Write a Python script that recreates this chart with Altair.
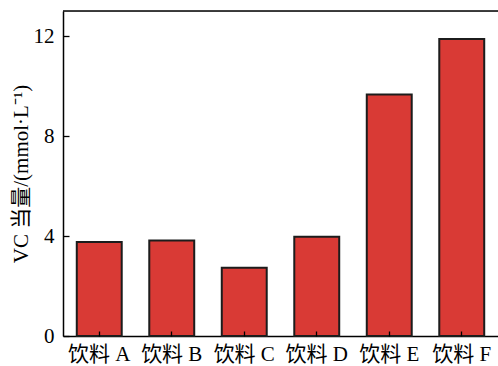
import altair as alt
import pandas as pd

drinks = ["饮料 A", "饮料 B", "饮料 C", "饮料 D", "饮料 E", "饮料 F"]
values = [3.76, 3.82, 2.73, 3.97, 9.66, 11.88]
y_ticks = [0, 4, 8, 12]
y_max = 13

df = pd.DataFrame({"drink": drinks, "vc": values})

FONT = "Liberation Serif, Times New Roman, Noto Sans CJK SC, serif"
W, H = 435, 325

xscale = alt.Scale(domain=drinks, paddingInner=0.38, paddingOuter=0.19)
yscale = alt.Scale(domain=[0, y_max], nice=False, zero=True)

base = alt.Chart(df)

bars = base.mark_bar(color="#d93a35", stroke="#1c1c1c", strokeWidth=2).encode(
    x=alt.X("drink:N", scale=xscale, sort=drinks,
            axis=alt.Axis(orient="bottom", title=None, labelAngle=0, ticks=False, tickSize=0,
                          labelPadding=7, labelFont=FONT, labelFontSize=21, labelColor="black",
                          domainColor="black", domainWidth=1.5)),
    y=alt.Y("vc:Q", scale=yscale,
            axis=alt.Axis(orient="left", values=y_ticks, grid=False, ticks=False, tickSize=0,
                          labelPadding=9, labelFont=FONT, labelFontSize=21, labelColor="black",
                          domainColor="black", domainWidth=1.5,
                          title="VC 当量/(mmol·L⁻¹)", titleFont=FONT, titleFontSize=21,
                          titleFontWeight="normal", titleColor="black", titlePadding=2)),
)

ticks = base.mark_bar(opacity=0).encode(
    x=alt.X("drink:N", scale=xscale, sort=drinks,
            axis=alt.Axis(orient="top", offset=-H, title=None, labels=False, domain=False,
                          ticks=True, tickSize=5, tickColor="black", tickWidth=1.3, zindex=1)),
    y=alt.Y("vc:Q", scale=yscale,
            axis=alt.Axis(orient="right", offset=-W, values=y_ticks, title=None, labels=False,
                          domain=False, grid=False, ticks=True, tickSize=6, tickColor="black",
                          tickWidth=1.3, zindex=1)),
)

top_line = alt.Chart(pd.DataFrame({"t": [y_max]})).mark_rule(color="black", strokeWidth=1.5).encode(
    y=alt.Y("t:Q", scale=yscale, axis=None)
)

chart = alt.layer(bars, ticks, top_line).resolve_axis(x="independent", y="independent").properties(
    width=W, height=H,
    autosize=alt.AutoSizeParams(type="none"),
    padding={"left": 63, "top": 11, "right": 0, "bottom": 30},
).configure_view(stroke=None).configure(background="white")

chart.save("out.html", embed_options={"renderer": "svg", "actions": False})
